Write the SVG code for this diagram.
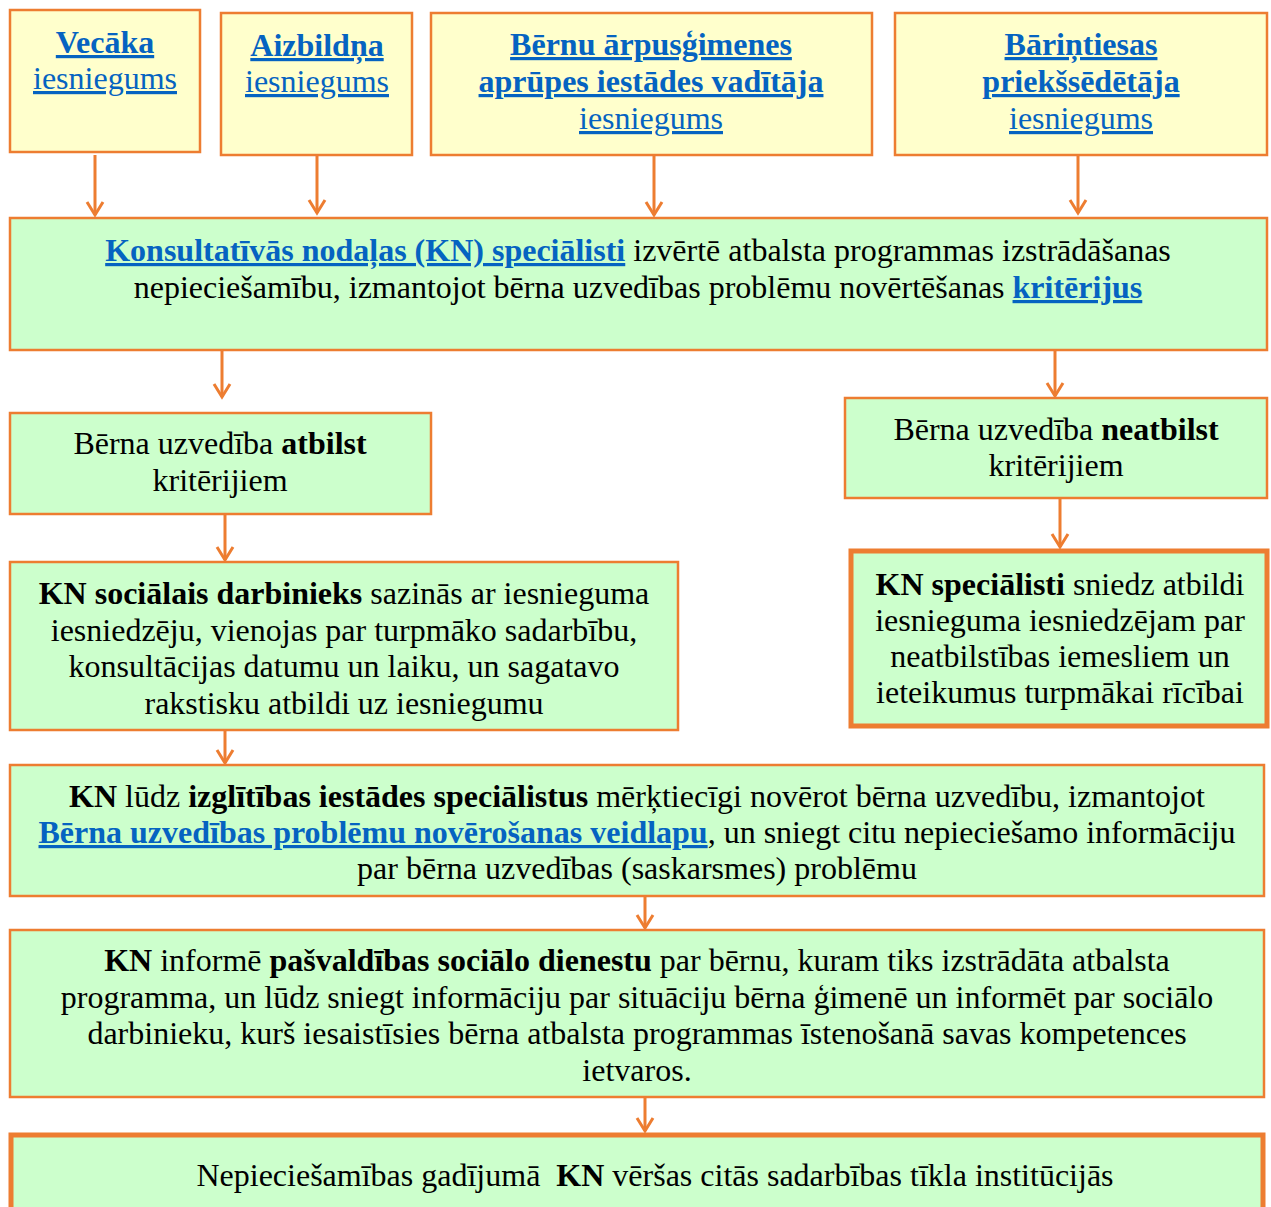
<svg xmlns="http://www.w3.org/2000/svg" width="1271" height="1207" viewBox="0 0 1271 1207">
<style>
text{font-family:"Liberation Serif","Times New Roman",serif;font-size:32px;fill:#000;text-anchor:middle}
.y{fill:#FFFFCC;stroke:#ED7D31;stroke-width:2.5}
.g{fill:#CCFFCC;stroke:#ED7D31;stroke-width:2.5}
.gt{fill:#CCFFCC;stroke:#ED7D31;stroke-width:5}
.l{fill:#0563C1;text-decoration:underline}
.b{font-weight:bold}
.c{stroke:#ED7D31;stroke-width:3;fill:none}
</style>
<defs>
<marker id="ah" markerUnits="userSpaceOnUse" markerWidth="20" markerHeight="22" viewBox="-16 -11 20 22" refX="0" refY="0" orient="auto">
<polyline points="-13,-8 0,0 -13,8" style="stroke:#ED7D31;stroke-width:3;fill:none"/>
</marker>
</defs>
<g id="n1"><rect class="y" x="10" y="10" width="190" height="142"/>
<text x="105" y="53"><tspan class="l b">Vecāka</tspan></text>
<text x="105" y="89"><tspan class="l">iesniegums</tspan></text></g>
<g id="n2"><rect class="y" x="221" y="13" width="191" height="142"/>
<text x="317" y="56"><tspan class="l b">Aizbildņa</tspan></text>
<text x="317" y="92"><tspan class="l">iesniegums</tspan></text></g>
<g id="n3"><rect class="y" x="431" y="13" width="441" height="142"/>
<text x="651" y="55"><tspan class="l b">Bērnu ārpusģimenes</tspan></text>
<text x="651" y="92"><tspan class="l b">aprūpes iestādes vadītāja</tspan></text>
<text x="651" y="129"><tspan class="l">iesniegums</tspan></text></g>
<g id="n4"><rect class="y" x="895" y="13" width="372" height="142"/>
<text x="1081" y="55"><tspan class="l b">Bāriņtiesas</tspan></text>
<text x="1081" y="92"><tspan class="l b">priekšsēdētāja</tspan></text>
<text x="1081" y="129"><tspan class="l">iesniegums</tspan></text></g>
<g id="n5"><rect class="g" x="10" y="218" width="1257" height="132"/>
<text x="638" y="261"><tspan class="l b">Konsultatīvās nodaļas (KN) speciālisti</tspan> izvērtē atbalsta programmas izstrādāšanas</text>
<text x="638" y="298">nepieciešamību, izmantojot bērna uzvedības problēmu novērtēšanas <tspan class="l b">kritērijus</tspan></text></g>
<g id="n6"><rect class="g" x="10" y="413" width="421" height="101"/>
<text x="220" y="454">Bērna uzvedība <tspan class="b">atbilst</tspan></text>
<text x="220" y="491">kritērijiem</text></g>
<g id="n7"><rect class="g" x="845" y="398" width="422" height="100"/>
<text x="1056" y="440">Bērna uzvedība <tspan class="b">neatbilst</tspan></text>
<text x="1056" y="476">kritērijiem</text></g>
<g id="n8"><rect class="g" x="10" y="562" width="668" height="168"/>
<text x="344" y="604"><tspan class="b">KN sociālais darbinieks</tspan> sazinās ar iesnieguma</text>
<text x="344" y="641">iesniedzēju, vienojas par turpmāko sadarbību,</text>
<text x="344" y="677">konsultācijas datumu un laiku, un sagatavo</text>
<text x="344" y="714">rakstisku atbildi uz iesniegumu</text></g>
<g id="n9"><rect class="gt" x="851" y="551" width="416" height="175"/>
<text x="1060" y="595"><tspan class="b">KN speciālisti</tspan> sniedz atbildi</text>
<text x="1060" y="631">iesnieguma iesniedzējam par</text>
<text x="1060" y="667">neatbilstības iemesliem un</text>
<text x="1060" y="703">ieteikumus turpmākai rīcībai</text></g>
<g id="n10"><rect class="g" x="10" y="765" width="1254" height="131"/>
<text x="637" y="807"><tspan class="b">KN</tspan> lūdz <tspan class="b">izglītības iestādes speciālistus</tspan> mērķtiecīgi novērot bērna uzvedību, izmantojot</text>
<text x="637" y="843"><tspan class="l b">Bērna uzvedības problēmu novērošanas veidlapu</tspan>, un sniegt citu nepieciešamo informāciju</text>
<text x="637" y="879">par bērna uzvedības (saskarsmes) problēmu</text></g>
<g id="n11"><rect class="g" x="10" y="930" width="1254" height="167"/>
<text x="637" y="971"><tspan class="b">KN</tspan> informē <tspan class="b">pašvaldības sociālo dienestu</tspan> par bērnu, kuram tiks izstrādāta atbalsta</text>
<text x="637" y="1008">programma, un lūdz sniegt informāciju par situāciju bērna ģimenē un informēt par sociālo</text>
<text x="637" y="1044">darbinieku, kurš iesaistīsies bērna atbalsta programmas īstenošanā savas kompetences</text>
<text x="637" y="1081">ietvaros.</text></g>
<g id="n12"><rect class="gt" x="11" y="1135" width="1252" height="90"/>
<text x="655" y="1186" xml:space="preserve">Nepieciešamības gadījumā  <tspan class="b">KN</tspan> vēršas citās sadarbības tīkla institūcijās</text></g>
<g id="connectors">
<line class="c" x1="95" y1="155" x2="95" y2="215" marker-end="url(#ah)"/>
<line class="c" x1="317" y1="155" x2="317" y2="213" marker-end="url(#ah)"/>
<line class="c" x1="654" y1="155" x2="654" y2="215" marker-end="url(#ah)"/>
<line class="c" x1="1078" y1="155" x2="1078" y2="213" marker-end="url(#ah)"/>
<line class="c" x1="222" y1="350" x2="222" y2="397" marker-end="url(#ah)"/>
<line class="c" x1="1055" y1="350" x2="1055" y2="396" marker-end="url(#ah)"/>
<line class="c" x1="225" y1="514" x2="225" y2="560" marker-end="url(#ah)"/>
<line class="c" x1="1060" y1="498" x2="1060" y2="547" marker-end="url(#ah)"/>
<line class="c" x1="225" y1="730" x2="225" y2="763" marker-end="url(#ah)"/>
<line class="c" x1="645" y1="896" x2="645" y2="928" marker-end="url(#ah)"/>
<line class="c" x1="645" y1="1097" x2="645" y2="1131" marker-end="url(#ah)"/>
</g>
</svg>
